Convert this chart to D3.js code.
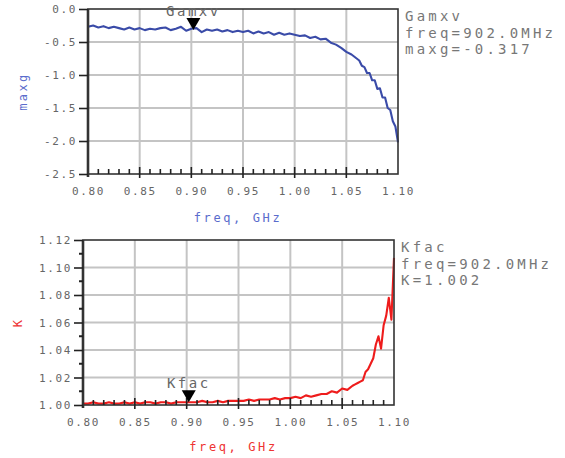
<!DOCTYPE html>
<html>
<head>
<meta charset="utf-8">
<script src="https://cdn.jsdelivr.net/npm/d3@7"></script>
<style>
  body { margin: 0; background: #fff; }
  text { font-family: "DejaVu Sans Mono", "Liberation Mono", monospace; }
</style>
</head>
<body>
<svg id="chart" width="565" height="458"></svg>
<script>
// frequency points, GHz
var freq = [0.800, 0.805, 0.810, 0.815, 0.820, 0.825, 0.830, 0.835, 0.840, 0.845,
  0.850, 0.855, 0.860, 0.865, 0.870, 0.875, 0.880, 0.885, 0.890, 0.895,
  0.900, 0.905, 0.910, 0.915, 0.920, 0.925, 0.930, 0.935, 0.940, 0.945,
  0.950, 0.955, 0.960, 0.965, 0.970, 0.975, 0.980, 0.985, 0.990, 0.995,
  1.000, 1.005, 1.010, 1.015, 1.020, 1.025, 1.030, 1.035, 1.040, 1.045,
  1.050, 1.055, 1.060, 1.0625, 1.065, 1.0675, 1.070, 1.0725, 1.075, 1.0775,
  1.080, 1.0825, 1.085, 1.0875, 1.090, 1.0925, 1.095, 1.0975, 1.100];

var maxg = [-0.27, -0.25, -0.28, -0.26, -0.29, -0.27, -0.29, -0.31, -0.28, -0.31,
  -0.29, -0.32, -0.30, -0.31, -0.29, -0.28, -0.32, -0.30, -0.27, -0.33,
  -0.30, -0.29, -0.35, -0.31, -0.33, -0.31, -0.34, -0.32, -0.35, -0.33,
  -0.35, -0.33, -0.37, -0.34, -0.37, -0.35, -0.39, -0.36, -0.39, -0.37,
  -0.39, -0.41, -0.40, -0.44, -0.42, -0.46, -0.45, -0.51, -0.54, -0.59,
  -0.65, -0.69, -0.75, -0.78, -0.86, -0.88, -0.97, -0.97, -1.08, -1.08,
  -1.21, -1.20, -1.34, -1.34, -1.50, -1.53, -1.70, -1.78, -2.02];

var kfac = [1.001, 1.001, 1.002, 1.001, 1.001, 1.002, 1.001, 1.001, 1.002, 1.001,
  1.002, 1.001, 1.002, 1.002, 1.001, 1.002, 1.002, 1.001, 1.002, 1.002,
  1.002, 1.002, 1.002, 1.003, 1.002, 1.002, 1.003, 1.002, 1.003, 1.003,
  1.003, 1.003, 1.004, 1.003, 1.004, 1.004, 1.004, 1.005, 1.004, 1.005,
  1.005, 1.006, 1.005, 1.007, 1.006, 1.007, 1.008, 1.008, 1.010, 1.009,
  1.012, 1.011, 1.014, 1.015, 1.016, 1.017, 1.018, 1.024, 1.026, 1.030,
  1.034, 1.044, 1.050, 1.041, 1.058, 1.065, 1.078, 1.062, 1.107];

var xTicks = [0.80, 0.85, 0.90, 0.95, 1.00, 1.05, 1.10];
var gTicks = [0.0, -0.5, -1.0, -1.5, -2.0, -2.5];
var kTicks = [1.00, 1.02, 1.04, 1.06, 1.08, 1.10, 1.12];

var marker = {freq: 0.902, maxg: -0.317, kfac: 1.002};
var gLegend = ["Gamxv", "freq=902.0MHz", "maxg=-0.317"];
var kLegend = ["Kfac", "freq=902.0MHz", "K=1.002"];

var svg = d3.select("#chart");

function panel(opt) {
  var x = d3.scaleLinear().domain([0.80, 1.10]).range([opt.left, opt.right]);
  var y = d3.scaleLinear().domain(opt.domain).range([opt.bottom, opt.top]);
  var g = svg.append("g");

  // grid
  g.append("g").selectAll("line").data(xTicks.slice(1, -1)).enter().append("line")
    .attr("x1", x).attr("x2", x).attr("y1", opt.top).attr("y2", opt.bottom)
    .attr("stroke", "#c4c4c4").attr("stroke-width", 2);
  g.append("g").selectAll("line").data(opt.ticks.slice(1, -1)).enter().append("line")
    .attr("y1", y).attr("y2", y).attr("x1", opt.left).attr("x2", opt.right)
    .attr("stroke", "#c4c4c4").attr("stroke-width", 2);

  // series
  var line = d3.line().x(function(d) { return x(d[0]); }).y(function(d) { return y(d[1]); });
  g.append("path").datum(d3.zip(freq, opt.values))
    .attr("d", line).attr("fill", "none")
    .attr("stroke", opt.color).attr("stroke-width", 2.1).attr("stroke-linejoin", "round");

  // frame
  g.append("rect").attr("x", opt.left).attr("y", opt.top)
    .attr("width", opt.right - opt.left).attr("height", opt.bottom - opt.top)
    .attr("fill", "none").attr("stroke", "#333").attr("stroke-width", 1.6);
  g.append("line").attr("x1", opt.left).attr("x2", opt.left)
    .attr("y1", opt.top).attr("y2", opt.bottom + 3)
    .attr("stroke", "#333").attr("stroke-width", 2.6);

  // x axis
  var xa = g.append("g").attr("transform", "translate(0," + opt.bottom + ")")
    .call(d3.axisBottom(x).tickValues(xTicks).tickSize(0).tickPadding(13).tickFormat(d3.format(".2f")));
  xa.select(".domain").remove();
  xa.selectAll("text").attr("fill", "#666").attr("font-size", 11).attr("letter-spacing", 1.6);
  var minor = d3.range(0.81, 1.095, 0.01).filter(function(v) {
    return Math.abs(v * 20 - Math.round(v * 20)) > 0.01;
  });
  g.append("g").selectAll("line").data(minor).enter().append("line")
    .attr("x1", x).attr("x2", x).attr("y1", opt.bottom).attr("y2", opt.bottom - 5)
    .attr("stroke", "#222").attr("stroke-width", 1.6);
  g.append("g").selectAll("line").data(xTicks.slice(1, -1)).enter().append("line")
    .attr("x1", x).attr("x2", x).attr("y1", opt.bottom + 4).attr("y2", opt.bottom - 7)
    .attr("stroke", "#222").attr("stroke-width", 1.6);

  // y axis
  var ya = g.append("g").attr("transform", "translate(" + opt.left + ",0)")
    .call(d3.axisLeft(y).tickValues(opt.ticks).tickSize(9).tickPadding(2).tickFormat(d3.format(opt.fmt)));
  ya.select(".domain").remove();
  ya.selectAll(".tick line").attr("stroke", "#222").attr("stroke-width", 1.6);
  ya.selectAll("text").attr("fill", "#666").attr("font-size", 11).attr("letter-spacing", 1.6)
    .text(function(d) { return d3.format(opt.fmt)(d).replace("\u2212", "-"); });
  if (opt.minorY) {
    g.append("g").selectAll("line").data(opt.minorY).enter().append("line")
      .attr("y1", y).attr("y2", y).attr("x1", opt.left - 4).attr("x2", opt.left)
      .attr("stroke", "#222").attr("stroke-width", 2);
  }

  // titles
  g.append("text").attr("x", (opt.left + opt.right) / 2 - 5).attr("y", opt.bottom + opt.titleDy)
    .attr("text-anchor", "middle").attr("fill", opt.titleColor)
    .attr("font-size", 12).attr("letter-spacing", 2.6).text("freq, GHz");
  g.append("text").attr("transform", "translate(" + opt.ytx + "," + ((opt.top + opt.bottom) / 2) + ") rotate(-90)")
    .attr("text-anchor", "middle").attr("fill", opt.titleColor)
    .attr("font-size", 12).attr("letter-spacing", 2.4).text(opt.ytitle);

  // marker
  var mx = x(marker.freq), my = y(opt.mval);
  g.append("path").attr("d", "M" + (mx - 7) + "," + (my - 12) + "L" + (mx + 7) + "," + (my - 12) + "L" + mx + "," + my + "Z")
    .attr("fill", "#000");
  g.append("text").attr("x", mx).attr("y", my - 14).attr("text-anchor", "middle")
    .attr("fill", "#666").attr("font-size", 14).attr("letter-spacing", 2.5).text(opt.legend[0]);

  // readout
  g.append("g").selectAll("text").data(opt.legend).enter().append("text")
    .attr("x", opt.right + 7).attr("y", function(d, i) { return opt.top + 12 + i * 16.5; })
    .attr("fill", "#777").attr("font-size", 14).attr("letter-spacing", 3.2)
    .text(function(d) { return d; });
}

panel({left: 88, right: 398, top: 9, bottom: 174, domain: [-2.5, 0], ticks: gTicks,
  fmt: ".1f", values: maxg, color: "#3a4ba8", titleColor: "#5a6ccc",
  ytitle: "maxg", ytx: 27, mval: marker.maxg, legend: gLegend, titleDy: 48});

panel({left: 83, right: 394, top: 240, bottom: 405, domain: [1.0, 1.12], ticks: kTicks,
  fmt: ".2f", values: kfac, color: "#ee1c1c", titleColor: "#ee3333",
  ytitle: "K", ytx: 22, mval: marker.kfac, legend: kLegend, titleDy: 46,
  minorY: [1.01, 1.03, 1.05, 1.07, 1.09, 1.11]});
</script>
</body>
</html>
